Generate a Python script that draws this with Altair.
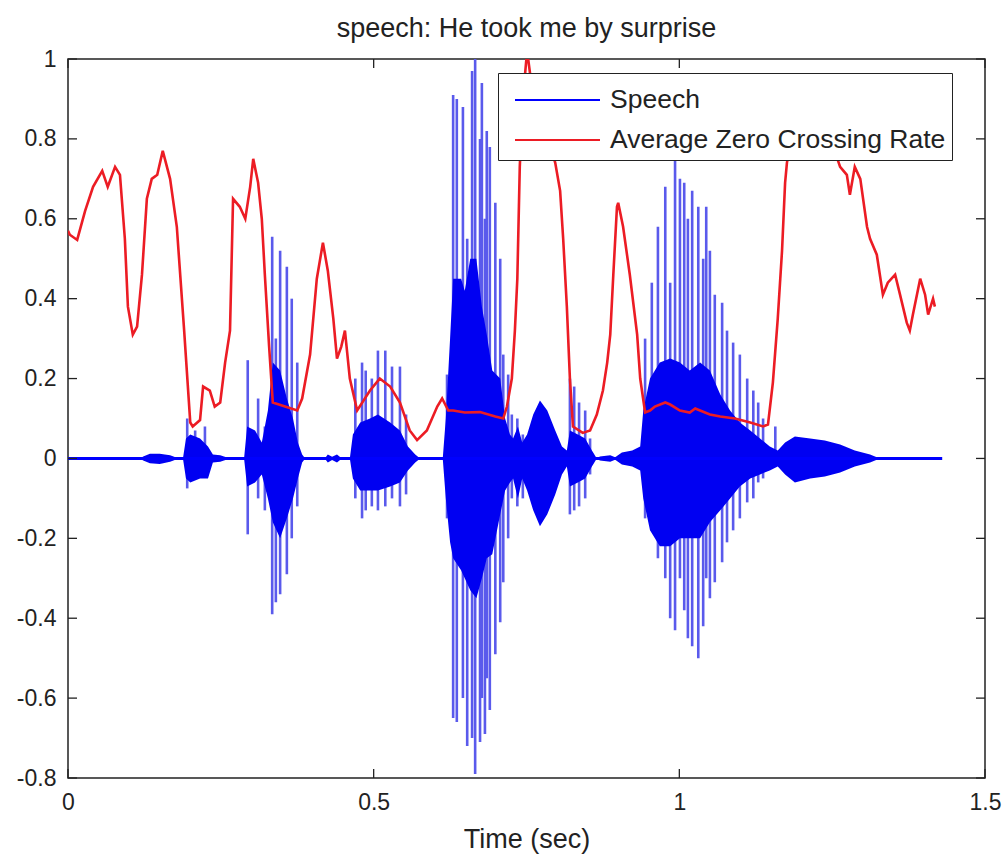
import altair as alt
import pandas as pd

# ---------------- data ----------------
title_text = "speech: He took me by surprise"
x_label = "Time (sec)"
series_names = ["Speech", "Average Zero Crossing Rate"]
series_colors = ["#0000ff", "#ec1c24"]

x_ticks = [0, 0.5, 1, 1.5]
y_ticks = [-0.8, -0.6, -0.4, -0.2, 0, 0.2, 0.4, 0.6, 0.8, 1]

speech_start = 0.0
speech_end = 1.43

# dense (dark) envelope of the speech waveform
core_t = [0.000, 0.118, 0.123, 0.134, 0.150, 0.167, 0.178, 0.188, 0.193, 0.200,
          0.216, 0.229, 0.237, 0.249, 0.265, 0.288, 0.293, 0.306, 0.317, 0.327,
          0.335, 0.347, 0.358, 0.368, 0.376, 0.383, 0.388, 0.420, 0.425, 0.432,
          0.440, 0.448, 0.461, 0.466, 0.478, 0.494, 0.507, 0.527, 0.543, 0.556,
          0.568, 0.576, 0.613, 0.618, 0.625, 0.630, 0.643, 0.649, 0.658, 0.668, 0.677, 0.685,
          0.694, 0.707, 0.715, 0.723, 0.728, 0.736, 0.743, 0.751, 0.761, 0.772,
          0.784, 0.797, 0.808, 0.816, 0.821, 0.834, 0.846, 0.857, 0.865, 0.870,
          0.887, 0.895, 0.906, 0.923, 0.936, 0.941, 0.952, 0.968, 0.985, 1.001,
          1.017, 1.034, 1.050, 1.067, 1.083, 1.099, 1.116, 1.132, 1.148, 1.161,
          1.173, 1.189, 1.214, 1.238, 1.263, 1.287, 1.312, 1.328, 1.430]
core_hi = [0, 0, 0.005, 0.012, 0.012, 0.008, 0.002, 0, 0.05, 0.06,
           0.05, 0.03, 0.01, 0.008, 0, 0, 0.08, 0.07, 0.04, 0.12,
           0.24, 0.22, 0.15, 0.10, 0.04, 0.01, 0, 0, 0.01, 0.004,
           0.01, 0, 0, 0.06, 0.09, 0.10, 0.11, 0.09, 0.07, 0.03,
           0.01, 0, 0, 0.10, 0.30, 0.45, 0.45, 0.42, 0.50, 0.50, 0.38, 0.31,
           0.22, 0.20, 0.10, 0.06, 0.05, 0.08, 0.04, 0.06, 0.11, 0.145,
           0.12, 0.07, 0.03, 0.02, 0.07, 0.06, 0.05, 0.02, 0, 0.005,
           0.008, 0.003, 0.015, 0.02, 0.03, 0.12, 0.20, 0.24, 0.25, 0.24,
           0.22, 0.24, 0.22, 0.16, 0.12, 0.09, 0.07, 0.05, 0.03, 0.02,
           0.04, 0.055, 0.05, 0.045, 0.035, 0.02, 0.01, 0, 0]
core_lo = [0, 0, -0.005, -0.012, -0.014, -0.008, -0.002, 0, -0.05, -0.06,
           -0.05, -0.05, -0.01, -0.008, 0, 0, -0.07, -0.06, -0.04, -0.10,
           -0.16, -0.20, -0.15, -0.10, -0.05, -0.01, 0, 0, -0.01, -0.004,
           -0.01, 0, 0, -0.05, -0.08, -0.08, -0.08, -0.07, -0.06, -0.03,
           -0.01, 0, 0, -0.10, -0.21, -0.25, -0.28, -0.30, -0.33, -0.35, -0.30, -0.25,
           -0.24, -0.14, -0.08, -0.06, -0.05, -0.10, -0.05, -0.08, -0.13, -0.17,
           -0.14, -0.09, -0.04, -0.02, -0.07, -0.06, -0.05, -0.02, 0, -0.005,
           -0.008, -0.003, -0.015, -0.02, -0.03, -0.10, -0.18, -0.22, -0.22, -0.20,
           -0.20, -0.20, -0.16, -0.13, -0.10, -0.07, -0.05, -0.04, -0.03, -0.02,
           -0.04, -0.06, -0.05, -0.045, -0.035, -0.02, -0.01, 0, 0]

# tall individual excursions (pitch pulses) of the speech waveform
spike_t = [0.195, 0.208, 0.224,
           0.294, 0.311, 0.322, 0.334, 0.340, 0.347, 0.358, 0.366, 0.375,
           0.470, 0.481, 0.487, 0.497, 0.507, 0.519, 0.530, 0.543, 0.553,
           0.620, 0.630, 0.636, 0.646, 0.653, 0.661, 0.666, 0.674, 0.677,
           0.682, 0.685, 0.690, 0.699, 0.707, 0.712, 0.720, 0.726,
           0.735, 0.744,
           0.821, 0.828, 0.836, 0.846, 0.854,
           0.944, 0.955, 0.965, 0.977, 0.985, 0.993, 1.001, 1.008, 1.014, 1.021,
           1.031, 1.039, 1.044, 1.050, 1.058, 1.070, 1.078, 1.088, 1.099, 1.111,
           1.121, 1.129, 1.137, 1.157]
spike_hi = [0.10, 0.07, 0.08,
            0.246, 0.15, 0.08, 0.555, 0.30, 0.52, 0.48, 0.40, 0.24,
            0.20, 0.24, 0.22, 0.20, 0.27, 0.27, 0.23, 0.23, 0.11,
            0.21, 0.91, 0.90, 0.88, 0.55, 0.97, 1.00, 0.80, 0.94,
            0.60, 0.82, 0.78, 0.64, 0.50, 0.26, 0.21, 0.11,
            0.10, 0.06,
            0.20, 0.18, 0.14, 0.12, 0.05,
            0.30, 0.44, 0.58, 0.68, 0.44, 0.75, 0.70, 0.69, 0.60, 0.67,
            0.63, 0.50, 0.63, 0.52, 0.41, 0.39, 0.32, 0.29, 0.26, 0.20,
            0.17, 0.14, 0.10, 0.08]
spike_lo = [-0.075, -0.05, -0.04,
            -0.19, -0.10, -0.13, -0.39, -0.36, -0.34, -0.29, -0.20, -0.12,
            -0.10, -0.15, -0.13, -0.12, -0.13, -0.12, -0.10, -0.12, -0.09,
            -0.15, -0.65, -0.66, -0.60, -0.72, -0.70, -0.79, -0.71, -0.60,
            -0.69, -0.55, -0.63, -0.49, -0.41, -0.31, -0.20, -0.10,
            -0.12, -0.10,
            -0.14, -0.13, -0.12, -0.10, -0.04,
            -0.15, -0.18, -0.25, -0.30, -0.40, -0.43, -0.30, -0.38, -0.45, -0.47,
            -0.50, -0.42, -0.30, -0.35, -0.31, -0.26, -0.21, -0.18, -0.15, -0.11,
            -0.10, -0.06, -0.05, -0.02]

# average zero crossing rate
zcr_t = [0.000, 0.003, 0.015, 0.028, 0.041, 0.056, 0.065, 0.077, 0.085, 0.093,
         0.098, 0.106, 0.113, 0.121, 0.129, 0.137, 0.146, 0.155, 0.167, 0.178,
         0.190, 0.200, 0.204, 0.216, 0.221, 0.232, 0.240, 0.249, 0.257, 0.265,
         0.270, 0.281, 0.290, 0.298, 0.303, 0.311, 0.317, 0.322, 0.329, 0.335,
         0.355, 0.375, 0.383, 0.396, 0.407, 0.417, 0.425, 0.434, 0.440, 0.447,
         0.453, 0.461, 0.473, 0.494, 0.510, 0.527, 0.543, 0.559, 0.571, 0.587,
         0.604, 0.612, 0.622, 0.630, 0.649, 0.674, 0.699, 0.712, 0.718, 0.726,
         0.731, 0.735, 0.739, 0.744, 0.751, 0.757, 0.780, 0.797, 0.805, 0.810,
         0.816, 0.821, 0.826, 0.842, 0.854, 0.865, 0.875, 0.882, 0.887, 0.892,
         0.898, 0.900, 0.908, 0.919, 0.931, 0.936, 0.944, 0.952, 0.960, 0.977,
         0.985, 1.001, 1.017, 1.026, 1.034, 1.050, 1.067, 1.091, 1.116, 1.137,
         1.145, 1.153, 1.161, 1.168, 1.173, 1.176, 1.189, 1.214, 1.243, 1.263,
         1.274, 1.279, 1.287, 1.296, 1.307, 1.312, 1.323, 1.333, 1.341, 1.353,
         1.361, 1.372, 1.377, 1.382, 1.394, 1.402, 1.407, 1.415, 1.418]
zcr_v = [0.57, 0.56, 0.547, 0.62, 0.68, 0.72, 0.68, 0.73, 0.71, 0.55,
         0.38, 0.31, 0.33, 0.46, 0.65, 0.70, 0.71, 0.77, 0.70, 0.58,
         0.32, 0.09, 0.08, 0.096, 0.18, 0.17, 0.13, 0.14, 0.24, 0.32,
         0.65, 0.63, 0.60, 0.68, 0.75, 0.69, 0.60, 0.46, 0.28, 0.14,
         0.13, 0.12, 0.15, 0.26, 0.45, 0.54, 0.47, 0.35, 0.25, 0.28,
         0.32, 0.20, 0.12, 0.17, 0.20, 0.18, 0.14, 0.07, 0.046, 0.07,
         0.13, 0.15, 0.12, 0.12, 0.115, 0.116, 0.105, 0.10, 0.13, 0.20,
         0.32, 0.45, 0.73, 0.90, 1.02, 0.95, 0.83, 0.74, 0.67, 0.55,
         0.38, 0.20, 0.08, 0.064, 0.07, 0.11, 0.17, 0.24, 0.31, 0.46,
         0.63, 0.64, 0.58, 0.46, 0.31, 0.20, 0.115, 0.12, 0.13, 0.14,
         0.135, 0.12, 0.115, 0.125, 0.12, 0.11, 0.105, 0.10, 0.09, 0.08,
         0.085, 0.19, 0.35, 0.52, 0.69, 0.74, 0.85, 0.88, 0.82, 0.73,
         0.71, 0.66, 0.73, 0.70, 0.58, 0.55, 0.51, 0.41, 0.44, 0.46,
         0.41, 0.34, 0.32, 0.36, 0.45, 0.41, 0.36, 0.40, 0.38]

assert len(core_t) == len(core_hi) == len(core_lo)
assert len(spike_t) == len(spike_hi) == len(spike_lo)
assert len(zcr_t) == len(zcr_v)

# ---------------- tables ----------------
core_df = pd.DataFrame({"t": core_t, "hi": core_hi, "lo": core_lo})
spike_df = pd.DataFrame({"t": spike_t, "hi": spike_hi, "lo": spike_lo})
zcr_df = pd.DataFrame({"t": zcr_t, "v": zcr_v, "series": series_names[1]})
zero_df = pd.DataFrame({"t": [speech_start], "t_end": [speech_end], "v": [0.0],
                        "series": [series_names[0]]})
xt_df = pd.DataFrame({"t": x_ticks})
yt_df = pd.DataFrame({"v": y_ticks})

# ---------------- style ----------------
W, H = 917, 719
TL = 9
FONT = "Liberation Sans"
TXT = "#222222"
FS = 23

x_scale = alt.Scale(domain=[0, 1.5], nice=False, zero=False)
y_scale = alt.Scale(domain=[-0.8, 1], nice=False, zero=False)
x_axis = alt.Axis(values=x_ticks, title=x_label, ticks=False, domain=False, grid=False,
                  labelFlush=False, labelFontSize=FS, titleFontSize=27, labelPadding=13,
                  titlePadding=12, labelFont=FONT, titleFont=FONT, labelColor=TXT,
                  titleColor=TXT, titleFontWeight="normal", labelExpr="'' + datum.value")
y_axis = alt.Axis(values=y_ticks, title=None, ticks=False, domain=False, grid=False,
                  labelFlush=False, labelFontSize=FS, labelPadding=12, labelFont=FONT,
                  labelColor=TXT, labelExpr="'' + datum.value")

color = alt.Color("series:N",
                  scale=alt.Scale(domain=series_names, range=series_colors),
                  legend=alt.Legend(title=None, orient="none", legendX=430, legendY=14,
                                    direction="vertical", fillColor="white",
                                    strokeColor=TXT, padding=6, rowPadding=5,
                                    symbolType="M-1,0H3.25", symbolSize=1600,
                                    symbolStrokeWidth=2, symbolOffset=10, labelOffset=54,
                                    labelFontSize=26.5, labelFont=FONT, labelColor=TXT,
                                    labelLimit=500))

spikes = alt.Chart(spike_df).mark_rule(color="#5a5aec", strokeWidth=2.6).encode(
    x=alt.X("t:Q", scale=x_scale, axis=x_axis),
    y=alt.Y("hi:Q", scale=y_scale, axis=y_axis),
    y2="lo:Q",
)
core = alt.Chart(core_df).mark_area(color="#0000f2", opacity=1).encode(
    x=alt.X("t:Q", scale=x_scale, axis=x_axis),
    y=alt.Y("hi:Q", scale=y_scale, axis=y_axis),
    y2="lo:Q",
)
zero = alt.Chart(zero_df).mark_rule(strokeWidth=3).encode(
    x=alt.X("t:Q", scale=x_scale, axis=x_axis),
    x2="t_end:Q",
    y=alt.Y("v:Q", scale=y_scale, axis=y_axis),
    color=color,
)
zcr = alt.Chart(zcr_df).mark_line(strokeWidth=2.6, clip=True).encode(
    x=alt.X("t:Q", scale=x_scale, axis=x_axis),
    y=alt.Y("v:Q", scale=y_scale, axis=y_axis),
    color=color,
)

tick_style = dict(color=TXT, strokeWidth=1.3)
xb = alt.Chart(xt_df).mark_rule(**tick_style).encode(
    x=alt.X("t:Q", scale=x_scale, axis=x_axis), y=alt.value(H), y2=alt.value(H - TL))
xtp = alt.Chart(xt_df).mark_rule(**tick_style).encode(
    x=alt.X("t:Q", scale=x_scale, axis=x_axis), y=alt.value(0), y2=alt.value(TL))
yl = alt.Chart(yt_df).mark_rule(**tick_style).encode(
    y=alt.Y("v:Q", scale=y_scale, axis=y_axis), x=alt.value(0), x2=alt.value(TL))
yr = alt.Chart(yt_df).mark_rule(**tick_style).encode(
    y=alt.Y("v:Q", scale=y_scale, axis=y_axis), x=alt.value(W), x2=alt.value(W - TL))

chart = alt.layer(spikes, core, zero, zcr, xb, xtp, yl, yr).properties(
    width=W, height=H,
    padding={"left": 68, "top": 59, "right": 18, "bottom": 78},
    autosize=alt.AutoSizeParams(type="none"),
    background="white",
    title=alt.Title(title_text, fontSize=27, fontWeight="normal", font=FONT, color=TXT,
                    anchor="middle", frame="group", baseline="alphabetic", offset=0, dy=16),
).configure_view(stroke=TXT, strokeWidth=1.5)

chart.save("out.html", embed_options={"renderer": "svg", "actions": False})
